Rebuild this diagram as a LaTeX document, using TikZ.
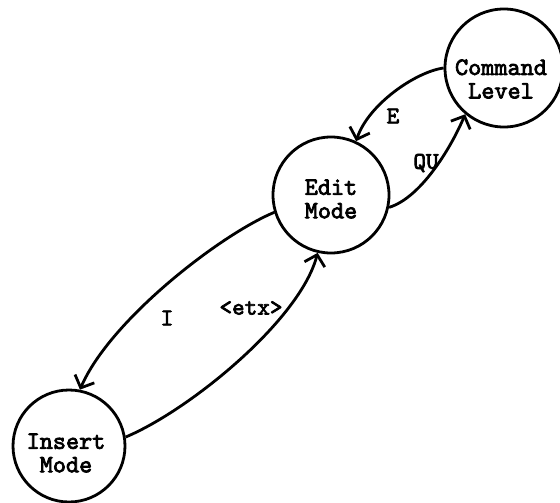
\documentclass[tikz,border=0pt]{standalone}
\usepackage{fontspec}
\setmonofont[AutoFakeBold=3]{lmmono10-regular.otf}
\usetikzlibrary{arrows.meta}
\tikzset{
  statenode/.style={circle, draw, line width=2.8pt, inner sep=0pt},
  statetext/.style={align=center, font=\fontsize{25}{23.5}\selectfont\ttfamily\bfseries, inner sep=0pt},
  edgelabel/.style={font=\fontsize{24}{24}\selectfont\ttfamily\bfseries, inner sep=0pt},
  trans/.style={line width=2.8pt, -{Straight Barb[length=10pt,width=21pt]}}
}
\begin{document}
\begin{tikzpicture}[x=1pt,y=-1pt]
\useasboundingbox (0,0) rectangle (560,503);
\fill[white] (0,0) rectangle (560,503);
% states
\node[statenode, minimum size=118pt] (cmd) at (504,68) {};
\node[statetext] (cmdtext) at (501,79) {Command\\Level};
\node[statenode, minimum size=116pt] (edit) at (331,195) {};
\node[statetext] (edittext) at (331,199) {Edit\\Mode};
\node[statenode, minimum size=112pt] (ins) at (69,446) {};
\node[statetext] (instext) at (66,453) {Insert\\Mode};
% transitions
\draw[trans] (cmd.180) .. controls (415,72) and (368,105) .. (edit.65);
\draw[trans] (edit.-12) .. controls (420,198) and (450,150) .. (cmd.230);
\draw[trans] (edit.197) .. controls (220,235) and (110,320) .. (ins.79);
\draw[trans] (ins.9) .. controls (190,410) and (300,320) .. (edit.257);
% labels
\node[edgelabel] (lE) at (393,116) {E};
\node[edgelabel] (lQU) at (426,163) {QU};
\node[edgelabel] (lI) at (167,318) {I};
\node[edgelabel] (letx) at (251,308) {<etx>};
\end{tikzpicture}
\end{document}
